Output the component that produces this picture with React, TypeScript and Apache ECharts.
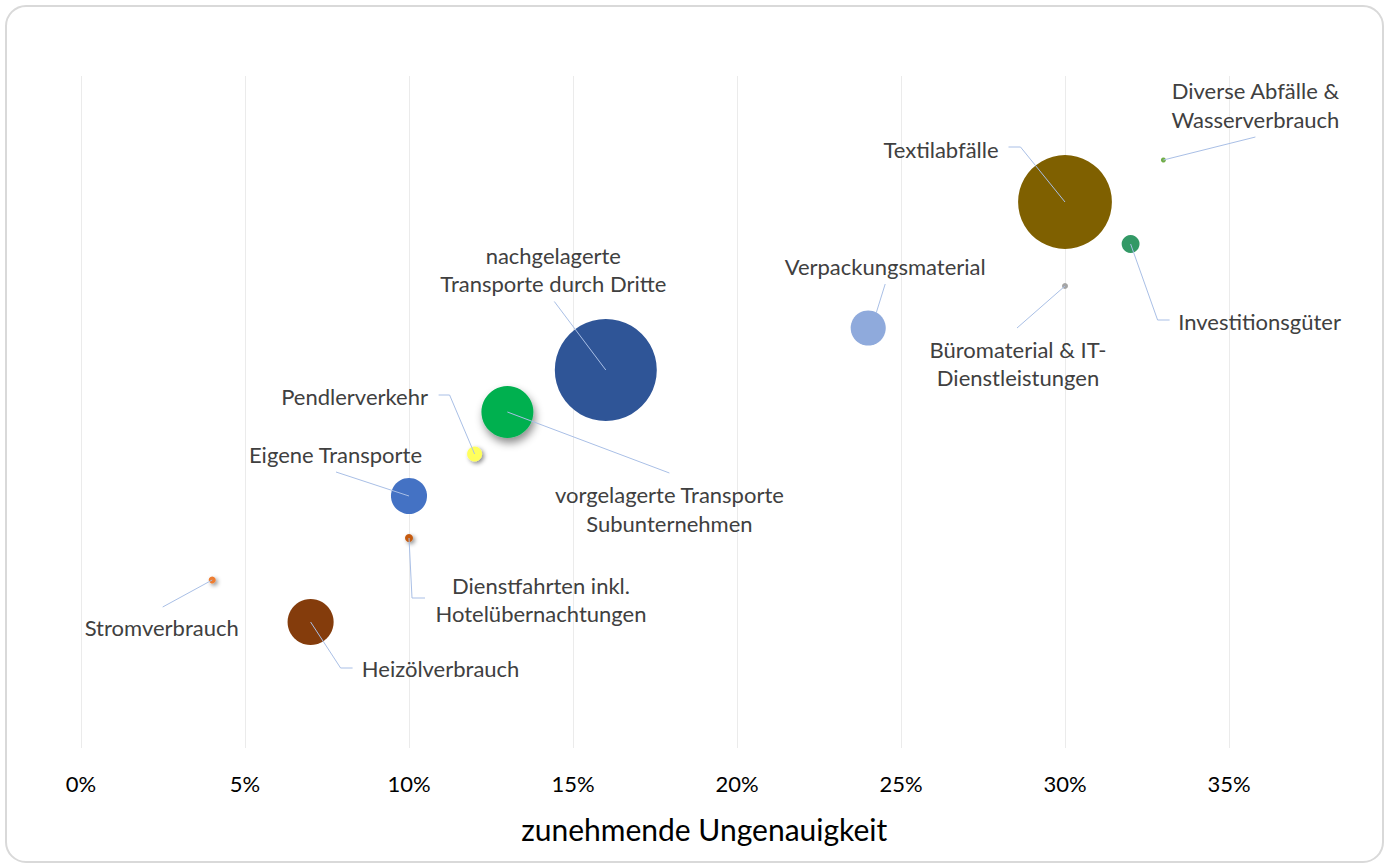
import React, { useEffect, useRef } from 'react';
import * as echarts from 'echarts';

// ---- data ----
const categories = [
  'Heizölverbrauch',
  'Stromverbrauch',
  'Dienstfahrten inkl.\nHotelübernachtungen',
  'Eigene Transporte',
  'Pendlerverkehr',
  'vorgelagerte Transporte\nSubunternehmen',
  'nachgelagerte\nTransporte durch Dritte',
  'Verpackungsmaterial',
  'Büromaterial & IT-\nDienstleistungen',
  'Textilabfälle',
  'Investitionsgüter',
  'Diverse Abfälle &\nWasserverbrauch',
];
const inaccuracy = [0.07, 0.04, 0.10, 0.10, 0.12, 0.13, 0.16, 0.24, 0.30, 0.30, 0.32, 0.33];
const rank = [3, 4, 5, 6, 7, 8, 9, 10, 11, 13, 12, 14];
const bubbleSize = [21.2, 0.5, 0.64, 13, 2.25, 27, 104, 12.3, 0.36, 88, 3.2, 0.25];
const colors = ['#843C0C', '#ED7D31', '#C55A11', '#4472C4', '#FFFF5C', '#00B050', '#2F5597', '#8FAADC', '#A5A5A5', '#7F6000', '#339966', '#70AD47'];
const xTickValues = [0, 0.05, 0.1, 0.15, 0.2, 0.25, 0.3, 0.35];
const xTickLabels = ['0%', '5%', '10%', '15%', '20%', '25%', '30%', '35%'];
const axisTitle = 'zunehmende Ungenauigkeit';

// ---- label layout (pixel offsets relative to bubble centre / text centre) ----
type LabelLayout = { off: number[]; anchor: number[]; elbow?: number[]; target?: number[] };
const labelLayout: LabelLayout[] = [
  { off: [130, 46], anchor: [-88, 0], elbow: [-100, 0] },
  { off: [-50.5, 47], anchor: [1, -20] },
  { off: [132, 61.5], anchor: [-116, -1.5], elbow: [-129, -1.5] },
  { off: [-73.5, -42], anchor: [0.5, 18] },
  { off: [-120, -58], anchor: [84, -1], elbow: [95, -1] },
  { off: [162, 97], anchor: [0, -36] },
  { off: [-52.5, -100.5], anchor: [1, 32] },
  { off: [17, -62], anchor: [0, 18], target: [8, -15] },
  { off: [-47, 77.5], anchor: [-1, -35.5] },
  { off: [-124, -53], anchor: [67.5, -2], elbow: [79.5, -2] },
  { off: [129, 77], anchor: [-90, -1], elbow: [-102, -1] },
  { off: [92, -55], anchor: [0, 32] },
];

const FONT = 'Lato, "Open Sans", sans-serif';
const shadowed = [false, true, true, false, true, true, false, false, false, false, false, false];

export default function App() {
  const ref = useRef<HTMLDivElement>(null);
  useEffect(() => {
    if (!ref.current) return;
    const chart = echarts.init(ref.current, undefined, { renderer: 'svg' });
    const bubbleData = categories.map((name, i) => ({
      name,
      value: [inaccuracy[i], rank[i], bubbleSize[i]],
      itemStyle: {
        color: colors[i],
        opacity: 1,
        shadowBlur: shadowed[i] ? (i === 5 ? 8 : 4) : 0,
        shadowColor: 'rgba(0,0,0,0.45)',
        shadowOffsetX: shadowed[i] ? 2 : 0,
        shadowOffsetY: shadowed[i] ? (i === 5 ? 5 : 2) : 0,
      },
    }));
    const labelData = categories.map((_, i) => [inaccuracy[i], rank[i]]);

    chart.setOption({
      animation: false,
      backgroundColor: '#ffffff',
      graphic: [
        {
          type: 'rect',
          silent: true,
          shape: { x: 6, y: 6, width: 1377, height: 856, r: 20 },
          style: { fill: 'none', stroke: '#D9D9D9', lineWidth: 2 },
        },
      ],
      grid: { left: 81, top: 76, width: 1246.4, height: 672 },
      xAxis: {
        type: 'value',
        min: 0,
        max: 0.38,
        interval: 0.05,
        name: axisTitle,
        nameLocation: 'middle',
        nameGap: 66,
        nameTextStyle: { fontFamily: FONT, fontSize: 30, color: '#000000', lineHeight: 30 },
        axisLine: { show: false },
        axisTick: { show: false },
        axisLabel: {
          showMaxLabel: false,
          margin: 24,
          fontFamily: FONT,
          fontSize: 22,
          lineHeight: 22,
          color: '#000000',
          formatter: (v: number) => {
            const idx = xTickValues.findIndex((t) => Math.abs(t - v) < 1e-9);
            return idx >= 0 ? xTickLabels[idx] : '';
          },
        },
        splitLine: { show: true, showMaxLine: false, lineStyle: { color: '#EBEBEB', width: 1 } },
      },
      yAxis: { type: 'value', min: 0, max: 16, show: false },
      series: [
        {
          type: 'scatter',
          z: 2,
          data: bubbleData,
          symbolSize: (v: number[]) => Math.sqrt(v[2]) * 10,
          label: { show: false },
          emphasis: { disabled: true },
        },
        {
          type: 'custom',
          z: 5,
          data: labelData,
          encode: { x: 0, y: 1 },
          silent: true,
          renderItem: (params: any, api: any) => {
            const i = params.dataIndex;
            const c = api.coord([api.value(0), api.value(1)]);
            const L = labelLayout[i];
            const tx = c[0] + L.off[0];
            const ty = c[1] + L.off[1];
            const t = L.target || [0, 0];
            const pts: number[][] = [[c[0] + t[0], c[1] + t[1]]];
            if (L.elbow) pts.push([tx + L.elbow[0], ty + L.elbow[1]]);
            pts.push([tx + L.anchor[0], ty + L.anchor[1]]);
            return {
              type: 'group',
              children: [
                {
                  type: 'polyline',
                  z2: 10,
                  shape: { points: pts },
                  style: { stroke: '#A9BFE6', lineWidth: 1, fill: null },
                },
                {
                  type: 'text',
                  z2: 10,
                  x: tx,
                  y: ty,
                  style: {
                    text: categories[i],
                    fill: '#404040',
                    fontFamily: FONT,
                    fontSize: 22,
                    lineHeight: 28.5,
                    align: 'center',
                    verticalAlign: 'middle',
                  },
                },
              ],
            };
          },
        },
      ],
    });
    return () => chart.dispose();
  }, []);
  return (
    <div
      ref={ref}
      style={{ position: 'fixed', left: 0, top: 0, width: 1390, height: 865 }}
    />
  );
}
